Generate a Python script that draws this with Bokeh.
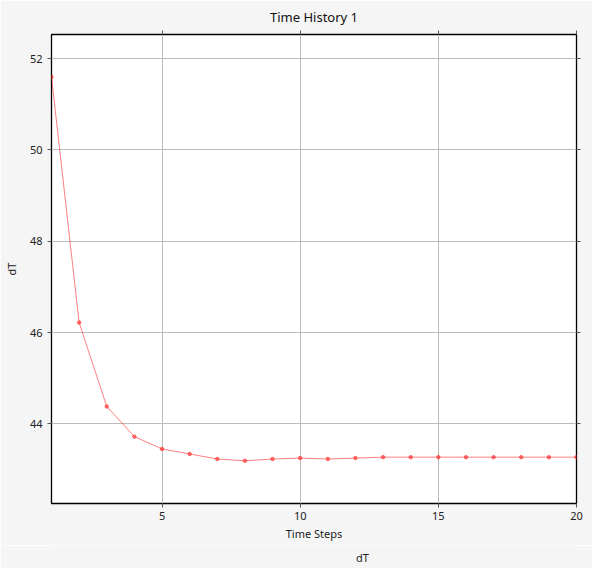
from bokeh.plotting import figure
from bokeh.layouts import column
from bokeh.models import (Range1d, SingleIntervalTicker, LinearAxis, Legend, LegendItem,
                          ColumnDataSource)
from bokeh.embed import file_html
from bokeh.resources import INLINE

steps = list(range(1, 21))
dT = [51.60, 46.22, 44.38, 43.72, 43.45, 43.34, 43.23, 43.19, 43.23, 43.25,
      43.23, 43.25, 43.27, 43.27, 43.27, 43.27, 43.27, 43.27, 43.27, 43.27]
x_ticks_interval = 5
y_ticks_interval = 2
series_name = "dT"

FONT = "Noto Sans"
BG = "#f5f5f5"

fig = figure(width=592, height=545, output_backend="svg", toolbar_location=None,
             x_range=Range1d(1, 20), y_range=Range1d(42.255, 52.53),
             min_border_left=48, min_border_right=16, min_border_top=33, min_border_bottom=42,
             background_fill_color="white", border_fill_color=BG)

fig.title.text = "Time History 1"
fig.title.align = "center"
fig.title.text_font = FONT
fig.title.text_font_size = "13px"
fig.title.text_font_style = "normal"
fig.title.text_color = "#111111"

fig.outline_line_color = "black"
fig.outline_line_width = 1.3
fig.outline_line_alpha = 1

src = ColumnDataSource(dict(x=steps, y=dT))
fig.line("x", "y", source=src, line_color="#ff0000", line_alpha=0.5, line_width=1)
fig.scatter("x", "y", source=src, size=3.5, fill_color="#ff3333", line_color="#ff3333",
            fill_alpha=0.65, line_alpha=0.65)

for ax in (fig.xaxis[0], fig.yaxis[0]):
    ax.axis_line_color = None
    ax.major_tick_in = 0
    ax.major_tick_out = 4
    ax.major_tick_line_color = "#555555"
    ax.minor_tick_line_color = None
    ax.major_label_text_font = FONT
    ax.major_label_text_font_size = "11px"
    ax.major_label_text_color = "#222222"
    ax.axis_label_text_font = FONT
    ax.axis_label_text_font_size = "11px"
    ax.axis_label_text_font_style = "normal"
    ax.axis_label_text_color = "#222222"

fig.xaxis[0].ticker = SingleIntervalTicker(interval=x_ticks_interval)
fig.yaxis[0].ticker = SingleIntervalTicker(interval=y_ticks_interval)
fig.xaxis[0].axis_label = "Time Steps"
fig.yaxis[0].axis_label = "dT"
fig.xaxis[0].major_label_standoff = 4
fig.xaxis[0].axis_label_standoff = 3
fig.yaxis[0].major_label_standoff = 5
fig.yaxis[0].axis_label_standoff = 8

for loc in ("above", "right"):
    ax = LinearAxis(ticker=SingleIntervalTicker(interval=x_ticks_interval if loc == "above" else y_ticks_interval))
    ax.axis_line_color = None
    ax.major_tick_in = 0
    ax.major_tick_out = 4
    ax.major_tick_line_color = "#555555"
    ax.minor_tick_line_color = None
    ax.major_label_text_font_size = "0px"
    ax.major_label_text_alpha = 0
    ax.major_label_standoff = 0
    fig.add_layout(ax, loc)

fig.grid.grid_line_color = "#bbbbbb"
fig.grid.grid_line_width = 1
fig.xgrid.ticker = SingleIntervalTicker(interval=x_ticks_interval)
fig.ygrid.ticker = SingleIntervalTicker(interval=y_ticks_interval)

# legend strip below the chart
leg = figure(width=592, height=23, output_backend="svg", toolbar_location=None,
             x_range=Range1d(0, 1), y_range=Range1d(0, 1),
             min_border=0, min_border_left=0, min_border_right=0,
             min_border_top=0, min_border_bottom=0,
             background_fill_color=BG, border_fill_color=BG)
leg.axis.visible = False
leg.grid.visible = False
leg.outline_line_color = None
swatch = leg.quad(left=[], right=[], top=[], bottom=[], fill_color="#ff0000", line_color="#ff0000")

legend = Legend(items=[LegendItem(label=series_name, renderers=[swatch])],
                orientation="horizontal", location=(287, 3),
                background_fill_alpha=0, border_line_color=None,
                glyph_width=12, glyph_height=12, label_height=12,
                label_text_font=FONT, label_text_font_size="11px",
                label_text_color="#222222",
                label_standoff=6, padding=2, margin=0, spacing=0)
leg.add_layout(legend)

p = column(fig, leg, spacing=0)

open("out.html", "w").write(file_html(p, INLINE))
